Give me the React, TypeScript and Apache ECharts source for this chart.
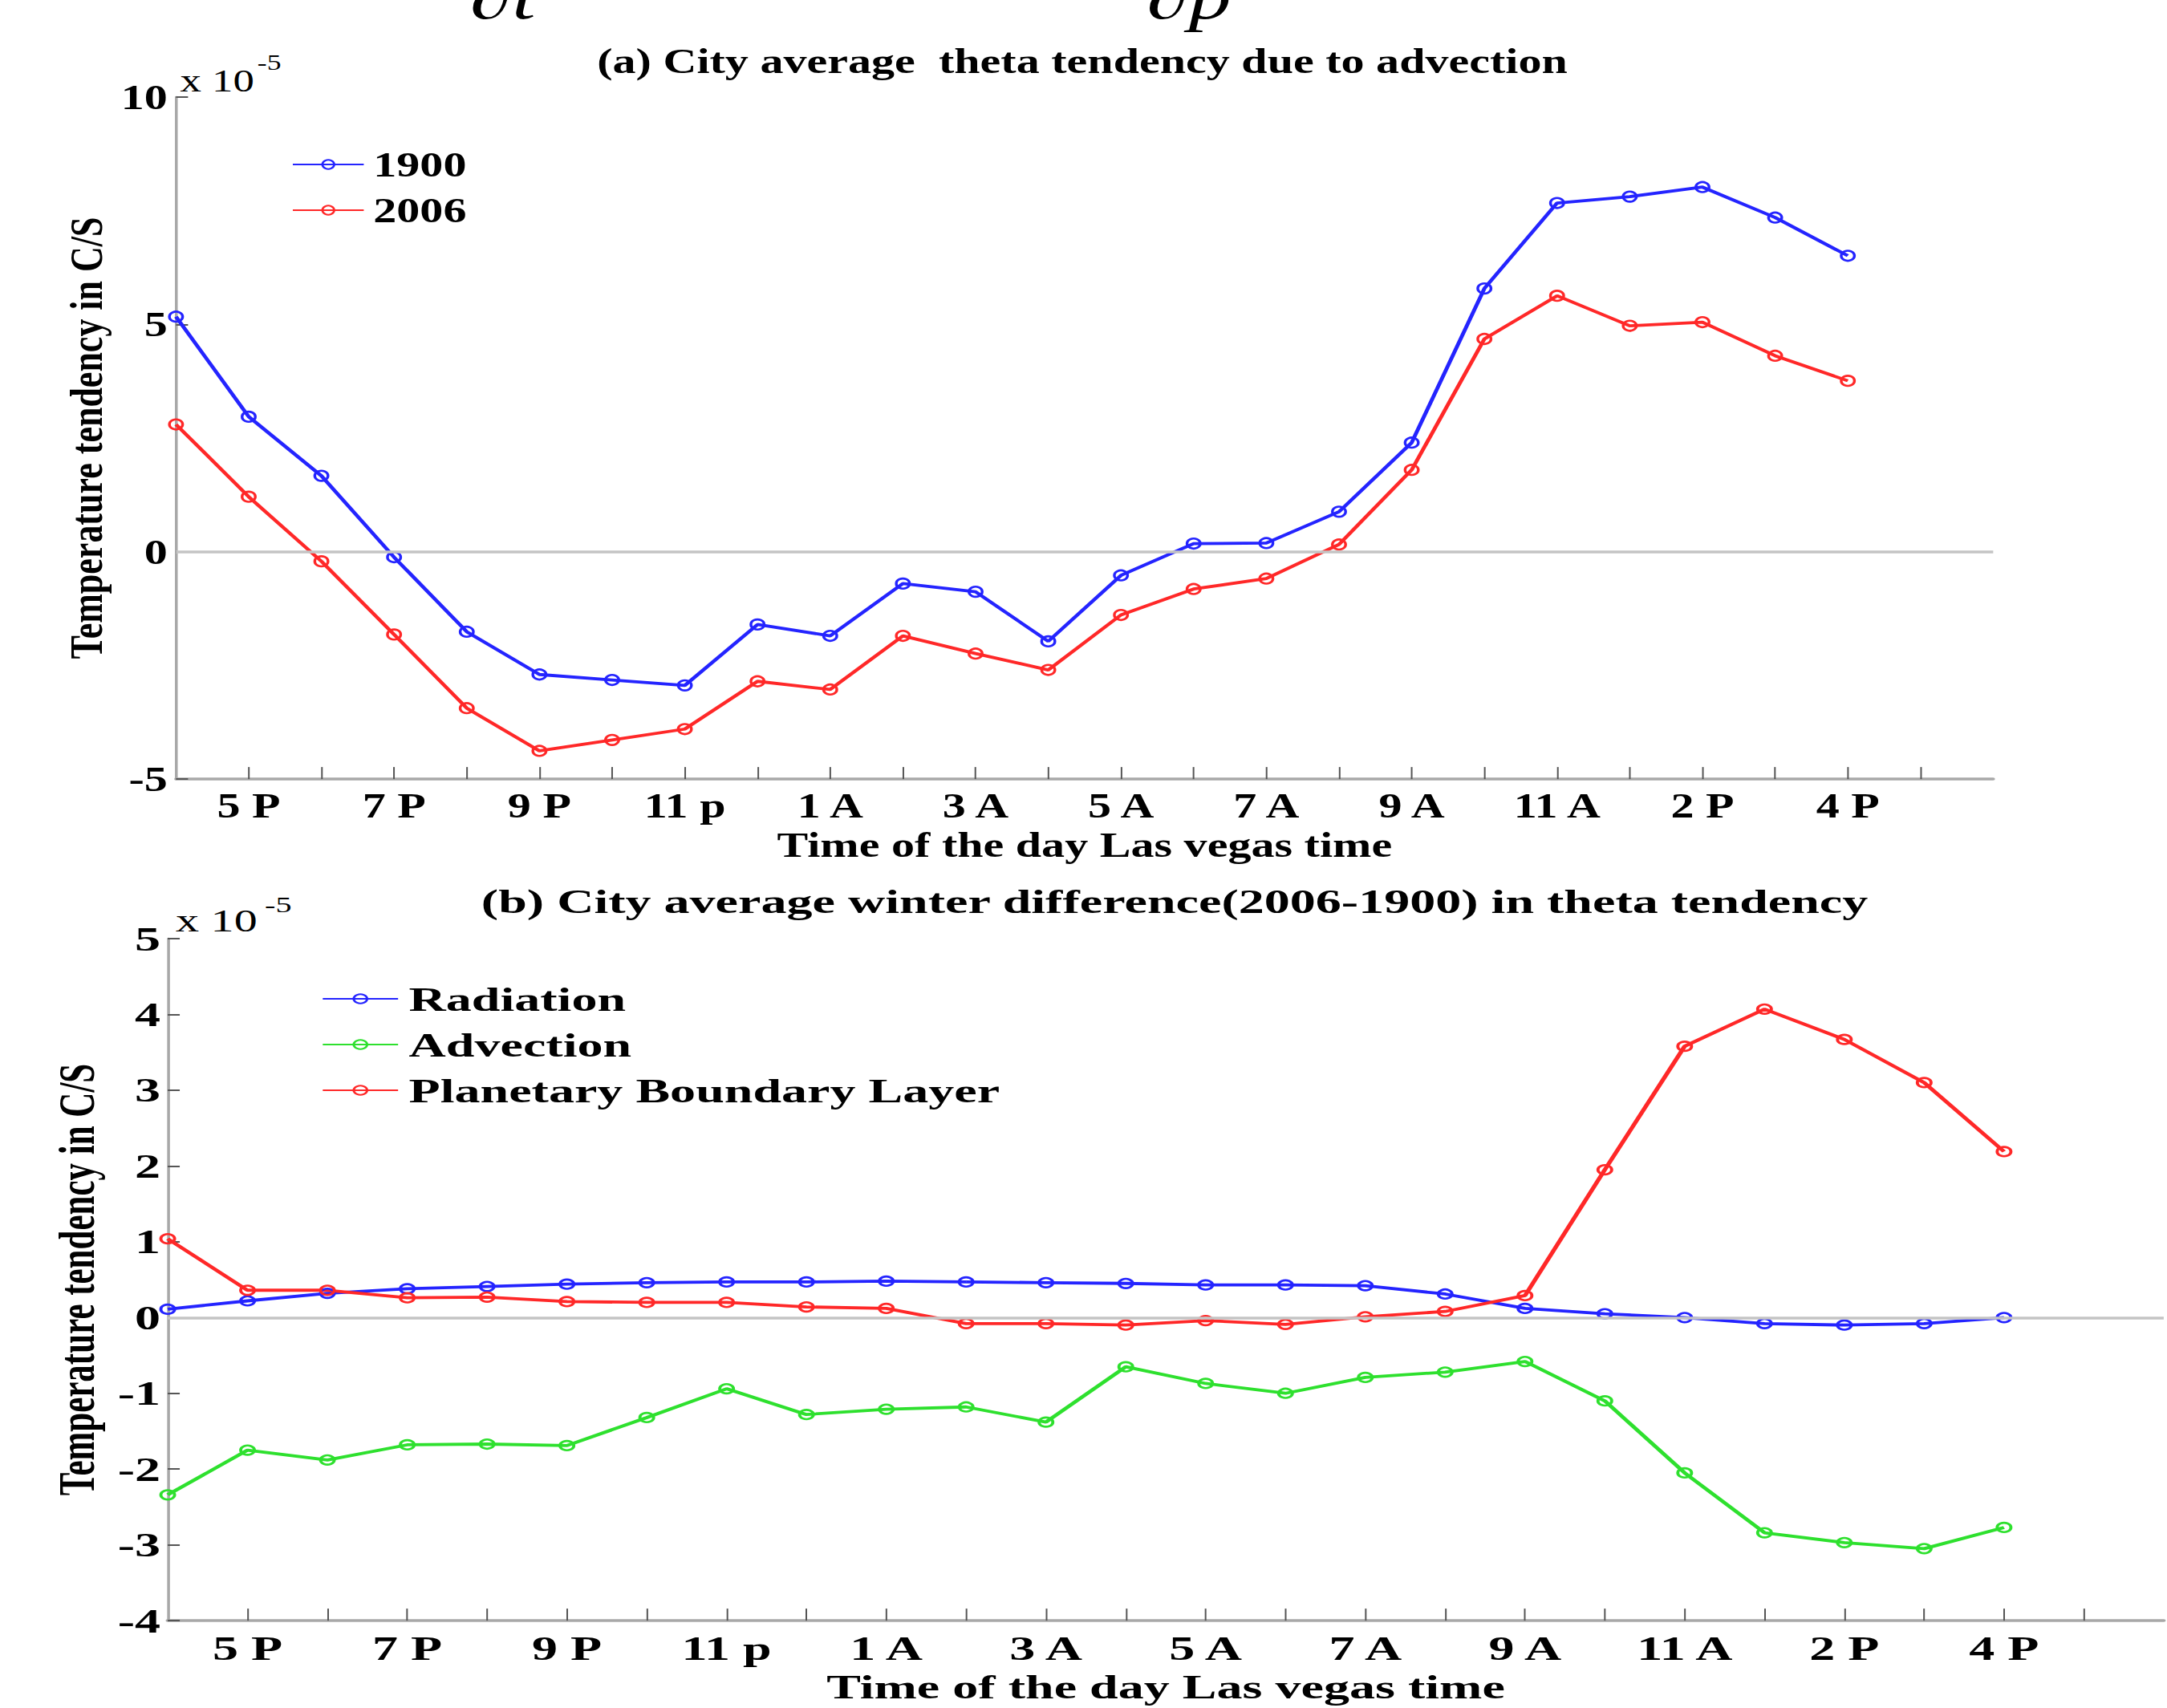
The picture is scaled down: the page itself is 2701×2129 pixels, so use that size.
import React, { useEffect, useRef } from 'react';
import * as echarts from 'echarts';

// ---------- data ----------
const xTickLabels = ['', '5 P', '', '7 P', '', '9 P', '', '11 p', '', '1 A', '', '3 A', '', '5 A', '', '7 A', '', '9 A', '', '11 A', '', '2 P', '', '4 P', '', ''];
const hourSlots = xTickLabels.map((_, i) => String(i));

const adv1900 = [5.17, 2.97, 1.67, -0.12, -1.76, -2.7, -2.82, -2.94, -1.6, -1.85, -0.7, -0.88, -1.97, -0.52, 0.18, 0.19, 0.88, 2.4, 5.79, 7.67, 7.81, 8.02, 7.35, 6.51];
const adv2006 = [2.8, 1.21, -0.21, -1.82, -3.44, -4.38, -4.14, -3.9, -2.85, -3.03, -1.85, -2.24, -2.6, -1.39, -0.82, -0.59, 0.16, 1.8, 4.68, 5.63, 4.97, 5.05, 4.31, 3.76];

const diffRadiation = [0.11, 0.22, 0.32, 0.38, 0.41, 0.44, 0.46, 0.47, 0.47, 0.48, 0.47, 0.46, 0.45, 0.43, 0.43, 0.42, 0.31, 0.12, 0.05, 0.0, -0.08, -0.1, -0.08, 0.0];
const diffAdvection = [-2.34, -1.75, -1.88, -1.68, -1.67, -1.69, -1.32, -0.94, -1.28, -1.21, -1.18, -1.38, -0.65, -0.87, -1.0, -0.79, -0.72, -0.58, -1.1, -2.05, -2.84, -2.97, -3.05, -2.77];
const diffPBL = [1.04, 0.36, 0.36, 0.26, 0.27, 0.21, 0.2, 0.2, 0.14, 0.12, -0.08, -0.08, -0.1, -0.04, -0.09, 0.01, 0.08, 0.29, 1.95, 3.58, 4.07, 3.67, 3.1, 2.19];

const titleA = '(a) City average  theta tendency due to advection';
const titleB = '(b) City average winter difference(2006-1900) in theta tendency';
const xName = 'Time of the day Las vegas time';
const yName = 'Temperature tendency in C/S';
const legendA = ['1900', '2006'];
const legendB = ['Radiation', 'Advection', 'Planetary Boundary Layer'];

// ---------- style ----------
const FONT = 'Liberation Serif';
const BLUE = '#2424ff';
const RED = '#ff2828';
const GREEN = '#2ee02e';
const AXIS_GRAY = '#a8a8a8';
const TICK_GRAY = '#555555';

const SA = 1.32;
const SB = 1.49;
const WA = 2047;
const HA = 1080;
const WB = 1813;
const HB = 1049;

function xAxisCfg(fontSize: number, nameGap: number, margin: number, S: number) {
  return {
    type: 'category',
    boundaryGap: false,
    data: hourSlots,
    axisLine: { show: true, onZero: false, lineStyle: { color: AXIS_GRAY, width: 3.5 } },
    axisTick: {
      show: true,
      inside: true,
      length: 15,
      interval: (i: number) => i >= 1 && i <= 24,
      lineStyle: { color: TICK_GRAY, width: 2 / S },
    },
    axisLabel: {
      show: true,
      interval: 0,
      margin,
      formatter: (v: string) => xTickLabels[Number(v)] ?? '',
      color: '#000',
      fontFamily: FONT,
      fontWeight: 'bold',
      fontSize,
      lineHeight: fontSize,
    },
    splitLine: { show: false },
    name: xName,
    nameLocation: 'middle',
    nameGap,
    nameTextStyle: { color: '#000', fontFamily: FONT, fontWeight: 'bold', fontSize, lineHeight: fontSize },
  };
}

function yAxisCfg(min: number, max: number, interval: number, fontSize: number, nameGap: number, margin: number, S: number) {
  return {
    type: 'value',
    min,
    max,
    interval,
    axisLine: { show: true, onZero: false, lineStyle: { color: AXIS_GRAY, width: 3.5 / S } },
    axisTick: { show: true, inside: true, length: 15 / S, lineStyle: { color: TICK_GRAY, width: 2 } },
    axisLabel: { margin, color: '#000', fontFamily: FONT, fontWeight: 'bold', fontSize },
    splitLine: { show: false },
    name: yName,
    nameLocation: 'middle',
    nameRotate: 90,
    nameGap,
    nameTextStyle: { color: '#000', fontFamily: FONT, fontWeight: 'bold', fontSize, lineHeight: fontSize },
  };
}

function zeroSeries() {
  return {
    name: 'zero',
    type: 'line',
    data: [],
    z: 1,
    markLine: {
      silent: true,
      symbol: 'none',
      label: { show: false },
      lineStyle: { color: '#c4c4c4', width: 3.5, type: 'solid' },
      emphasis: { disabled: true },
      data: [{ yAxis: 0 }],
    },
  };
}

function lineSeries(name: string, data: number[], color: string, size: number) {
  return {
    name,
    type: 'line',
    data,
    z: 3,
    color,
    symbol: 'circle',
    symbolSize: size,
    showSymbol: true,
    itemStyle: { color: 'rgba(255,255,255,0)', borderColor: color, borderWidth: 2.6 },
    lineStyle: { color, width: 3.8 },
    emphasis: { disabled: true },
  };
}

function legendCfg(data: string[], left: number, top: number, itemWidth: number, fontSize: number, gap: number) {
  return {
    orient: 'vertical',
    left,
    top,
    itemWidth,
    itemHeight: 14,
    itemGap: gap,
    selectedMode: false,
    data,
    textStyle: { color: '#000', fontFamily: FONT, fontWeight: 'bold', fontSize, lineHeight: fontSize, padding: [0, 0, 0, 4] },
  };
}

function txt(text: string, x: number, y: number, fontSize: number, extra: any = {}) {
  return {
    type: 'text',
    x,
    y,
    silent: true,
    style: {
      text,
      fill: '#000',
      fontFamily: FONT,
      fontSize,
      fontWeight: 'bold',
      align: 'center',
      verticalAlign: 'middle',
      ...extra,
    },
  };
}

export default function App() {
  const refA = useRef<HTMLDivElement>(null);
  const refB = useRef<HTMLDivElement>(null);

  useEffect(() => {
    document.body.style.margin = '0';
    const chartA = echarts.init(refA.current!, undefined, { renderer: 'svg' });
    const chartB = echarts.init(refB.current!, undefined, { renderer: 'svg' });

    chartA.setOption({
      animation: false,
      backgroundColor: '#fff',
      grid: { left: 166.2, top: 121, width: 1715.9, height: 852 },
      xAxis: xAxisCfg(44, 56, 11, SA),
      yAxis: yAxisCfg(-5, 10, 5, 44, 60, 8, SA),
      legend: legendCfg(legendA, 270.5, 178, 67, 44, 13),
      graphic: [
        txt('∂t', 444, -4, 80, { fontWeight: 'normal', fontStyle: 'italic', align: 'left' }),
        txt('∂p', 1083, -4, 80, { fontWeight: 'normal', fontStyle: 'italic', align: 'left' }),
        txt(titleA, 1022, 76, 44),
        txt('x 10', 170, 100, 40, { fontWeight: 'normal', align: 'left' }),
        txt('-5', 243, 78, 27, { fontWeight: 'normal', align: 'left' }),
      ],
      series: [zeroSeries(), lineSeries(legendA[0], adv1900, BLUE, 12.5), lineSeries(legendA[1], adv2006, RED, 12.5)],
    });

    chartB.setOption({
      animation: false,
      backgroundColor: '#fff',
      grid: { left: 140.3, top: 90, width: 1698, height: 859 },
      xAxis: xAxisCfg(43, 54, 13, SB),
      yAxis: yAxisCfg(-4, 5, 1, 43, 55, 6, SB),
      legend: legendCfg(legendB, 264, 138.5, 63, 43, 14),
      graphic: [
        txt(titleB, 982.6, 43, 43),
        txt('x 10', 147, 68, 39, { fontWeight: 'normal', align: 'left' }),
        txt('-5', 221.5, 48, 27, { fontWeight: 'normal', align: 'left' }),
      ],
      series: [
        zeroSeries(),
        lineSeries(legendB[0], diffRadiation, BLUE, 11.5),
        lineSeries(legendB[1], diffAdvection, GREEN, 11.5),
        lineSeries(legendB[2], diffPBL, RED, 11.5),
      ],
    });

    return () => {
      chartA.dispose();
      chartB.dispose();
    };
  }, []);

  return (
    <div style={{ position: 'absolute', left: 0, top: 0, width: 2701, height: 2129, overflow: 'hidden', background: '#fff' }}>
      <div
        ref={refA}
        style={{ position: 'absolute', left: 0, top: 0, width: WA, height: HA, transform: `scaleX(${SA})`, transformOrigin: '0 0' }}
      />
      <div
        ref={refB}
        style={{ position: 'absolute', left: 0, top: HA, width: WB, height: HB, transform: `scaleX(${SB})`, transformOrigin: '0 0' }}
      />
    </div>
  );
}
